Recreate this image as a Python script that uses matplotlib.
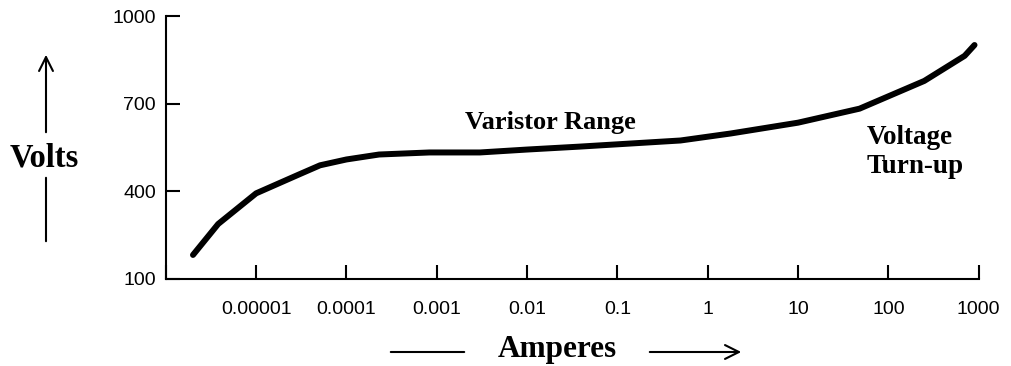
import numpy as np
import matplotlib.pyplot as plt
from matplotlib.ticker import FixedLocator, FixedFormatter

# Varistor V-I curve
amps = [2e-6, 3.8e-6, 1e-5, 3e-5, 5.1e-5, 1e-4, 2.3e-4, 8.3e-4, 3e-3, 1e-2,
        3.8e-2, 0.5, 1.8, 10, 48, 250, 700, 900]
volts = [182, 288, 393, 458, 489, 509, 526, 533, 533, 543,
         553, 574, 598, 635, 683, 778, 864, 901]

x_ticks = [1e-6, 1e-5, 1e-4, 1e-3, 1e-2, 1e-1, 1, 10, 100, 1000]
x_labels = ['', '0.00001', '0.0001', '0.001', '0.01', '0.1', '1', '10', '100', '1000']
y_ticks = [100, 400, 700, 1000]
y_labels = ['100', '400', '700', '1000']

fig = plt.figure(figsize=(10.11, 3.66), dpi=100)
ax = fig.add_axes([0.164, 0.238, 0.804, 0.718])

ax.plot(amps, volts, color='black', linewidth=4.3, solid_capstyle='round')
ax.set_xscale('log')
ax.set_xlim(1e-6, 1000)
ax.set_ylim(100, 1000)

ax.xaxis.set_major_locator(FixedLocator(x_ticks))
ax.xaxis.set_major_formatter(FixedFormatter(x_labels))
ax.xaxis.set_minor_locator(FixedLocator([]))
ax.yaxis.set_major_locator(FixedLocator(y_ticks))
ax.yaxis.set_major_formatter(FixedFormatter(y_labels))

ax.spines['top'].set_visible(False)
ax.spines['right'].set_visible(False)
ax.spines['left'].set_linewidth(1.5)
ax.spines['bottom'].set_linewidth(1.5)
ax.tick_params(direction='in', length=10, width=1.5, labelsize=14, pad=16)
ax.tick_params(axis='y', pad=7)
for lab in ax.get_xticklabels() + ax.get_yticklabels():
    lab.set_family('Liberation Sans')

serif = dict(family='Liberation Serif', fontweight='bold', fontsize=19)
ax.text(0.018, 637, 'Varistor Range', ha='center', va='center', **serif)
ax.text(57, 628, 'Voltage\nTurn-up', ha='left', va='top', linespacing=1.25,
        family='Liberation Serif', fontweight='bold', fontsize=19.5)

# axis names with arrows, in figure pixels
fig.text(44 / 1011, 1 - 158 / 366, 'Volts', ha='center', va='center', family='Liberation Serif',
         fontweight='bold', fontsize=23.5)
fig.text(557 / 1011, 1 - 349 / 366, 'Amperes', ha='center', va='center', family='Liberation Serif',
         fontweight='bold', fontsize=22.5)

def fpt(px, py):
    return (px / 1011, 1 - py / 366)

kw = dict(xycoords='figure fraction', textcoords='figure fraction')
ax.annotate('', xy=fpt(46, 52), xytext=fpt(46, 135),
            arrowprops=dict(arrowstyle='->', lw=1.5, color='black', mutation_scale=25), **kw)
ax.annotate('', xy=fpt(46, 175), xytext=fpt(46, 244),
            arrowprops=dict(arrowstyle='-', lw=1.5, color='black'), **kw)
ax.annotate('', xy=fpt(388, 352), xytext=fpt(467, 352),
            arrowprops=dict(arrowstyle='-', lw=1.5, color='black'), **kw)
ax.annotate('', xy=fpt(744, 352), xytext=fpt(647, 352),
            arrowprops=dict(arrowstyle='->', lw=1.5, color='black', mutation_scale=25), **kw)

fig.savefig('out.png', dpi=100)
